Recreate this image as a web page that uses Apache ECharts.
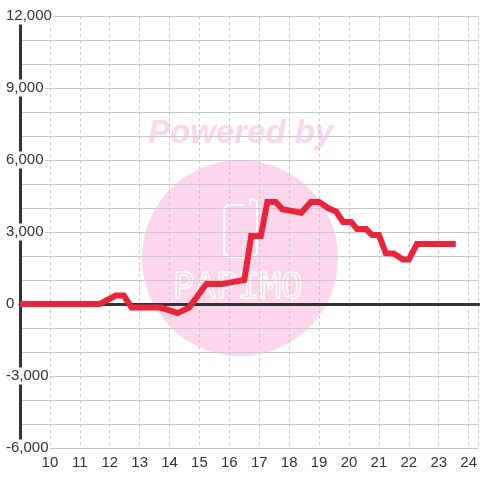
<!DOCTYPE html>
<html>
<head>
<meta charset="utf-8">
<style>
  html, body { margin: 0; padding: 0; background: #fff; }
  #chart { width: 480px; height: 480px; }
</style>
<script src="https://cdn.jsdelivr.net/npm/echarts@6/dist/echarts.min.js"></script>
</head>
<body>
<div id="chart"></div>
<script>
  // hour of day -> value
  var hours = [9.0, 11.67, 12.2, 12.47, 12.73, 13.7, 14.27, 14.65, 15.23, 15.73, 16.5, 16.73, 17.05, 17.27, 17.55, 17.77, 18.4, 18.73, 19.0, 19.33, 19.57, 19.8, 20.07, 20.27, 20.57, 20.77, 21.0, 21.23, 21.5, 21.8, 22.0, 22.27, 23.57]
  var values = [0, 0, 350, 350, -150, -150, -380, -150, 830, 830, 1000, 2830, 2830, 4250, 4250, 3950, 3800, 4250, 4250, 3980, 3850, 3420, 3420, 3120, 3120, 2870, 2870, 2120, 2100, 1850, 1850, 2500, 2500]
  var xTicks = [10, 11, 12, 13, 14, 15, 16, 17, 18, 19, 20, 21, 22, 23, 24]
  var yLabelStep = 3000

  var points = hours.map(function (h, i) { return [h, values[i]] })

  var chart = echarts.init(document.getElementById('chart'))
  chart.setOption({
    animation: false,
    grid: { left: 20, right: 0, top: 16, bottom: 32 },
    graphic: [
      {
        type: 'circle', z: -1, silent: true,
        shape: { cx: 240, cy: 258, r: 98 },
        style: { fill: '#fcd6ea' }
      },
      {
        type: 'text', z: -1, silent: true, left: 148, top: 117,
        style: {
          text: 'Powered by', fill: '#fcd6ea',
          font: 'italic bold 33px "Liberation Sans", Arial'
        }
      },
      {
        type: 'polyline', z: -1, silent: true,
        shape: { points: [[244, 205], [228, 205], [224, 209], [224, 253], [228, 257], [253, 257], [257, 253], [257, 201], [250, 199], [250, 205]] },
        style: { fill: 'none', stroke: '#fff', lineWidth: 2 }
      },
      {
        type: 'text', z: -1, silent: true, left: 172, top: 270,
        style: {
          text: 'PAPIMO', fill: 'none', stroke: '#fff', lineWidth: 1.5,
          font: '36px "DejaVu Sans Mono", monospace'
        }
      }
    ],
    xAxis: [
      {
        type: 'value',
        position: 'bottom',
        min: 9,
        max: 24.333,
        interval: 1,
        axisLine: { show: false, onZero: false },
        axisTick: { show: false },
        axisLabel: {
          color: '#333',
          fontSize: 15,
          fontFamily: 'Liberation Sans',
          margin: 7,
          showMinLabel: false,
          showMaxLabel: false,
          formatter: function (v) { return xTicks.indexOf(v) >= 0 ? String(v) : '' }
        },
        splitLine: { show: true, lineStyle: { color: '#c8c8c8', type: [3, 3], width: 1 } }
      },
      {
        type: 'value',
        position: 'bottom',
        z: 1.5,
        min: 9,
        max: 24.333,
        axisLine: { show: true, onZero: true, lineStyle: { color: '#333', width: 3 } },
        axisTick: { show: false },
        axisLabel: { show: false },
        splitLine: { show: false }
      }
    ],
    yAxis: {
      type: 'value',
      z: 1,
      min: -6000,
      max: 12000,
      interval: 1000,
      axisLine: { show: true, onZero: false, lineStyle: { color: '#333', width: 3 } },
      axisTick: { show: false },
      axisLabel: {
        color: '#333',
        fontSize: 15,
        fontFamily: 'Liberation Sans',
        align: 'left',
        margin: 15,
        padding: [1, 1, 1, 1],
        backgroundColor: '#fff',
        formatter: function (v) {
          if (v % yLabelStep !== 0) return ''
          return v.toLocaleString('en-US')
        }
      },
      splitLine: { show: true, lineStyle: { color: '#c8c8c8', width: 1 } }
    },
    series: [
      {
        type: 'line',
        xAxisIndex: 0,
        data: points,
        showSymbol: false,
        color: '#ee2238',
        lineStyle: { width: 6, join: 'miter' }
      }
    ]
  })
</script>
</body>
</html>
